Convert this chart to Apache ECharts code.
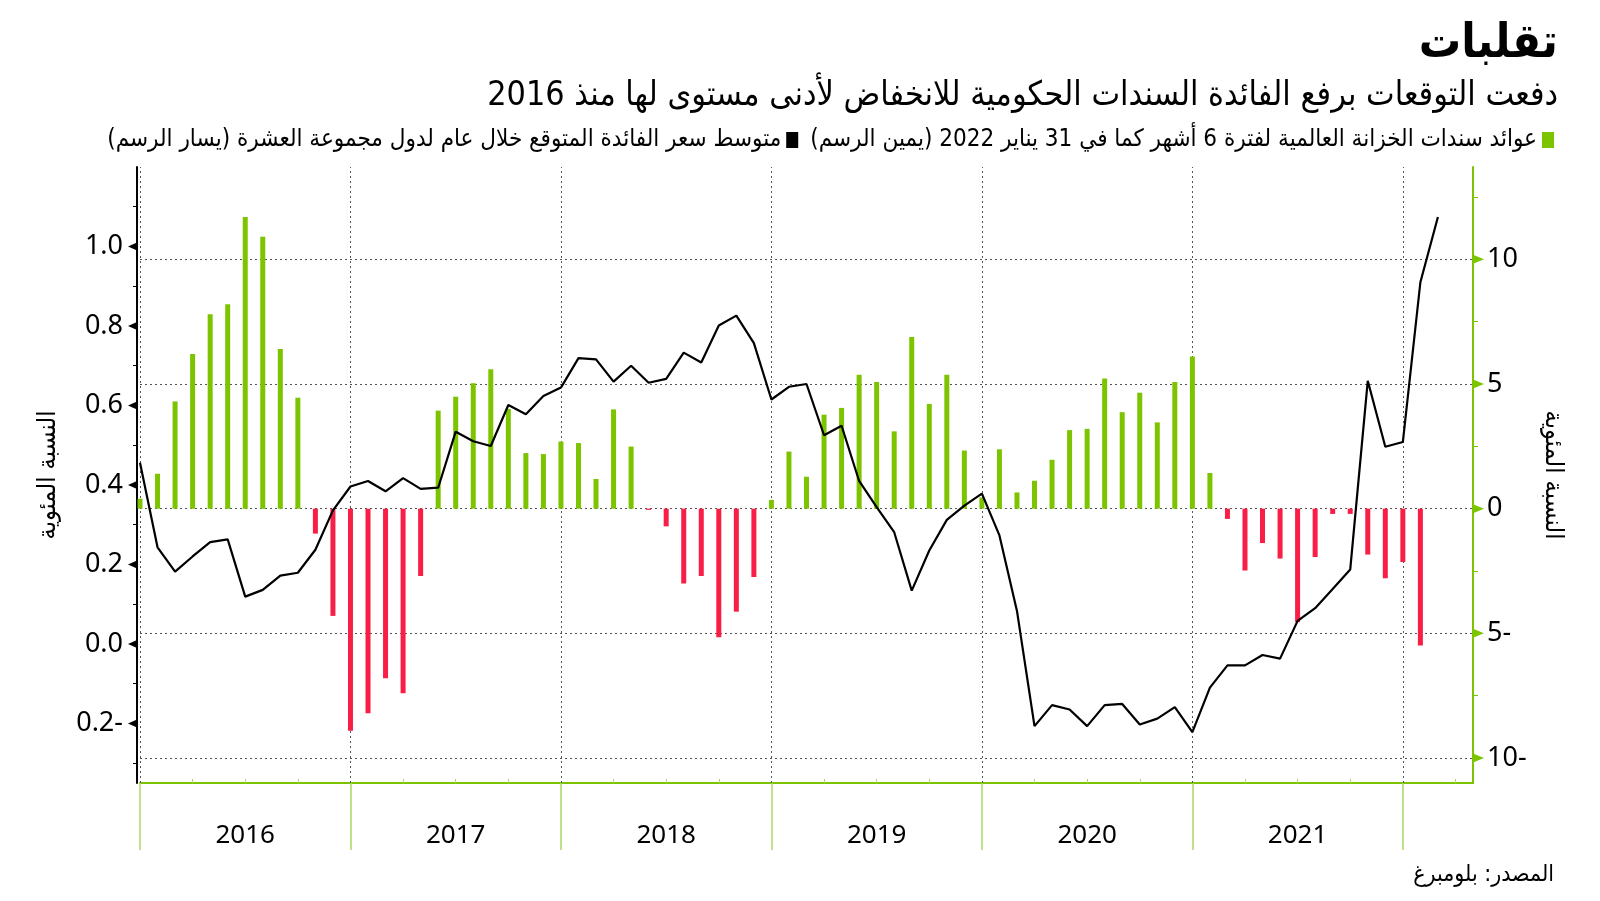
<!DOCTYPE html>
<html><head><meta charset="utf-8">
<script src="https://cdn.jsdelivr.net/npm/echarts@6/dist/echarts.min.js"></script>
<style>html,body{margin:0;padding:0;background:#fff}#c{width:1600px;height:901px}</style>
</head><body><div id="c"></div>
<script>
// ---- data ----
const startYear = 2016;
const yearLabels = ['2016', '2017', '2018', '2019', '2020', '2021'];
// 6-month global treasury yields, monthly Jan 2016 – Feb 2022 (right axis)
const treasuryYield6m = [
  0.4, 1.4, 4.3, 6.2, 7.8, 8.2, 11.7, 10.9, 6.4, 4.45,
  -1.0, -4.3, -8.9, -8.2, -6.8, -7.4, -2.7, 3.93, 4.49, 5.03,
  5.59, 4.0, 2.23, 2.19, 2.69, 2.63, 1.19, 3.98, 2.49, -0.05,
  -0.71, -3.0, -2.7, -5.16, -4.13, -2.74, 0.35, 2.29, 1.28, 3.77,
  4.04, 5.37, 5.08, 3.10, 6.88, 4.2, 5.37, 2.33, 0.45, 2.38,
  0.65, 1.12, 1.96, 3.15, 3.2, 5.22, 3.87, 4.65, 3.46, 5.08,
  6.1, 1.43, -0.41, -2.48, -1.38, -2.0, -4.55, -1.94, -0.21, -0.21,
  -1.84, -2.79, -2.14, -5.49
];
// G10 average expected rate within a year, monthly Jan 2016 – Mar 2022 (left axis)
const g10ExpectedRate = [
  0.456, 0.243, 0.182, 0.22, 0.256, 0.263, 0.119, 0.136, 0.172, 0.179,
  0.237, 0.336, 0.396, 0.41, 0.384, 0.417, 0.39, 0.393, 0.534, 0.51,
  0.498, 0.601, 0.578, 0.624, 0.645, 0.719, 0.716, 0.66, 0.70, 0.657,
  0.667, 0.733, 0.708, 0.801, 0.826, 0.757, 0.615, 0.647, 0.654, 0.525,
  0.549, 0.41, 0.344, 0.281, 0.134, 0.235, 0.312, 0.348, 0.378, 0.273,
  0.083, -0.207, -0.154, -0.165, -0.207, -0.154, -0.151, -0.203, -0.188, -0.159,
  -0.222, -0.11, -0.054, -0.054, -0.028, -0.037, 0.058, 0.09, 0.138, 0.187,
  0.662, 0.496, 0.508, 0.91, 1.074
];
const leftTicks = [-0.2, 0, 0.2, 0.4, 0.6, 0.8, 1.0];
const leftMinorTicks = [-0.3, -0.1, 0.1, 0.3, 0.5, 0.7, 0.9, 1.1];
const rightTicks = [-10, -5, 0, 5, 10];
const rightMinorTicks = [-7.5, -2.5, 2.5, 7.5, 12.5];

const titleText = 'تقلبات';
const subtitleText = 'دفعت التوقعات برفع الفائدة السندات الحكومية للانخفاض لأدنى مستوى لها منذ 2016';
const barName = 'عوائد سندات الخزانة العالمية لفترة 6 أشهر كما في 31 يناير 2022 (يمين الرسم)';
const lineName = 'متوسط سعر الفائدة المتوقع خلال عام لدول مجموعة العشرة (يسار الرسم)';
const axisName = 'النسبة المئوية';
const sourceText = 'المصدر: بلومبرغ';

// ---- style ----
const AR = "'DejaVu Sans Condensed','DejaVu Sans',sans-serif";
const NUM = "'Noto Sans','DejaVu Sans',sans-serif";
const GREEN = '#7cc400', RED = '#f81e45', LGREEN = '#a9d76a', GRID = '#555';
const rl = s => '\u200F' + s + '\u200F';
const spanMonths = 76;
const yearStarts = yearLabels.map((y, k) => k * 12).concat([yearLabels.length * 12]);
const yearCenters = yearLabels.map((y, k) => k * 12 + 6);
const quarterTicks = [];
for (let m = 3; m < spanMonths; m += 3) if (m % 12 !== 0) quarterTicks.push(m);
const fmt = d => v => (v < 0 ? Math.abs(v).toFixed(d) + '-' : v.toFixed(d));
const LEFT_OFFSET = 3;

const chart = echarts.init(document.getElementById('c'));
chart.setOption({
  animation: false,
  backgroundColor: '#fff',
  title: [
    { text: rl(titleText), right: 42, top: 21, padding: 0,
      textStyle: { fontFamily: AR, fontSize: 47, fontWeight: 'bold', color: '#000' } },
    { text: rl(subtitleText), right: 42, top: 79, padding: 0,
      textStyle: { fontFamily: AR, fontSize: 33.8, fontWeight: 'normal', color: '#000' } },
    { text: rl(sourceText), right: 46, top: 864, padding: 0,
      textStyle: { fontFamily: AR, fontSize: 23, fontWeight: 'normal', color: '#000' } }
  ],
  legend: {
    data: [{ name: rl(lineName), itemStyle: { color: '#000' } },
           { name: rl(barName), itemStyle: { color: GREEN } }],
    right: 46, top: 128, align: 'right', icon: 'rect', itemWidth: 12, itemHeight: 16,
    itemGap: 12, selectedMode: false, padding: 0,
    textStyle: { fontFamily: AR, fontSize: 24, color: '#000' }
  },
  grid: { left: 140, right: 127, top: 167, bottom: 118, containLabel: false },
  xAxis: [
    { type: 'value', min: 0, max: spanMonths,
      axisLine: { show: true, onZero: false, lineStyle: { color: GREEN, width: 2 } },
      axisTick: { show: true, customValues: quarterTicks, inside: true, length: 4, lineStyle: { color: LGREEN, width: 1 } },
      axisLabel: { show: true, customValues: yearCenters, formatter: v => String(startYear + (v - 6) / 12),
                   fontFamily: NUM, fontSize: 26, color: '#000', margin: 40 },
      splitLine: { show: false } },
    { type: 'value', min: 0, max: spanMonths, position: 'bottom',
      axisLine: { show: false, onZero: false },
      axisTick: { show: true, customValues: yearStarts, length: 67, lineStyle: { color: LGREEN, width: 1.5 } },
      axisLabel: { show: false }, splitLine: { show: false } }
  ],
  yAxis: [
    { type: 'value', min: -0.35, max: 1.2, position: 'left', offset: LEFT_OFFSET,
      axisLine: { show: true, onZero: false, lineStyle: { color: '#000', width: 2 } },
      axisTick: { show: true, customValues: leftMinorTicks, length: 4, lineStyle: { color: '#000', width: 1 } },
      axisLabel: { show: true, customValues: leftTicks, formatter: fmt(1), fontFamily: NUM, fontSize: 27, color: '#000', margin: 14 },
      splitLine: { show: false },
      name: rl(axisName), nameLocation: 'middle', nameRotate: 90, nameGap: 76,
      nameTextStyle: { fontFamily: AR, fontSize: 25, color: '#000' } },
    { type: 'value', min: -11, max: 13.7, position: 'right',
      axisLine: { show: true, onZero: false, lineStyle: { color: GREEN, width: 2 } },
      axisTick: { show: true, customValues: rightMinorTicks, length: 5, lineStyle: { color: GREEN, width: 1 } },
      axisLabel: { show: true, customValues: rightTicks, formatter: fmt(0), fontFamily: NUM, fontSize: 27, color: '#000', margin: 14 },
      splitLine: { show: false },
      name: rl(axisName), nameLocation: 'middle', nameRotate: -90, nameGap: 67,
      nameTextStyle: { fontFamily: AR, fontSize: 25, color: '#000' } }
  ],
  series: [
    { type: 'bar', name: rl(barName), xAxisIndex: 0, yAxisIndex: 1, barWidth: 5, z: 2,
      itemStyle: { color: GREEN },
      data: treasuryYield6m.map((v, i) => ({ value: [i, v], itemStyle: { color: v < 0 ? RED : GREEN } })),
      markLine: { silent: true, symbol: 'none', z: 1, label: { show: false },
                  lineStyle: { color: GRID, type: [2, 3], width: 1 },
                  data: rightTicks.map(v => ({ yAxis: v })) } },
    { type: 'line', name: rl(lineName), xAxisIndex: 0, yAxisIndex: 0, z: 3, symbol: 'none',
      lineStyle: { color: '#000', width: 2.2 }, itemStyle: { color: '#000' },
      data: g10ExpectedRate.map((v, i) => [i, v]),
      markLine: { silent: true, symbol: 'none', z: 1, label: { show: false },
                  lineStyle: { color: GRID, type: [2, 3], width: 1 },
                  data: yearStarts.map(v => ({ xAxis: v })) } }
  ]
});

// triangle markers at the labelled ticks, positioned through the axes' scales
const xL = chart.convertToPixel({ xAxisIndex: 0 }, 0) - LEFT_OFFSET;
const xR = chart.convertToPixel({ xAxisIndex: 0 }, spanMonths);
const tri = [];
leftTicks.forEach(v => {
  const y = chart.convertToPixel({ yAxisIndex: 0 }, v);
  tri.push({ type: 'polygon', silent: true, shape: { points: [[xL, y - 4], [xL, y + 4], [xL - 9, y]] }, style: { fill: '#000' } });
});
rightTicks.forEach(v => {
  const y = chart.convertToPixel({ yAxisIndex: 1 }, v);
  tri.push({ type: 'polygon', silent: true, shape: { points: [[xR, y - 4.5], [xR, y + 4.5], [xR + 11, y]] }, style: { fill: GREEN } });
});
chart.setOption({ graphic: tri });
</script></body></html>
